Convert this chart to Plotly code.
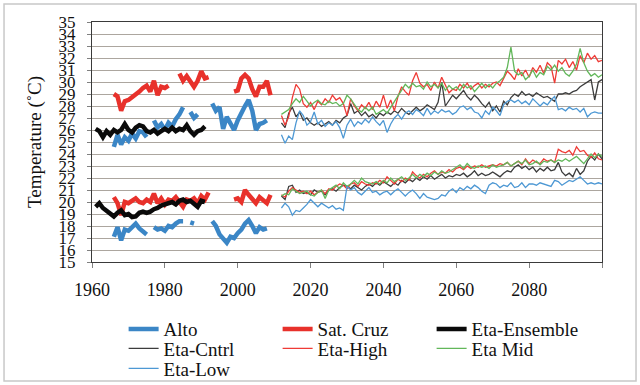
import plotly.graph_objects as go

# ---------------- observed (1961-2010) ----------------
obs_years = list(range(1961, 2011))
N = None
alto_upper = [N, N, N, N, N, 24.6, 25.6, 24.8, 25.4, 25.1, 25.7, 25.3, 25.9, 25.8, 25.4, N,
              26.8, 26.2, 26.5, 26.0, 26.6, 26.3, 26.9, 27.3, 27.9, N, 27.5, 27.0, 27.3, N,
              N, N, 28.2, 27.6, 27.9, 26.1, 27.1, 26.5, 26.0, 26.8, 27.5, 28.0, 28.5, 27.6,
              26.0, 26.5, 26.6, 26.8, N, N]
alto_lower = [N, N, N, N, N, 17.1, 17.9, 16.8, 17.7, 17.6, 17.9, 18.2, 17.8, 17.6, 17.3, N,
              17.9, 17.7, 17.8, 17.6, 18.0, 17.9, 18.2, 18.4, 18.4, N, 18.3, 18.2, N, N,
              N, N, 18.4, 18.0, 17.3, 17.0, 16.6, 17.1, 17.0, 17.4, 17.7, 18.2, 18.5, 18.0,
              17.4, 17.9, 17.7, 17.8, N, N]
cruz_upper = [N, N, N, N, N, 29.0, 28.8, 27.6, 28.4, 28.5, 28.7, 28.9, 29.2, 29.5, 29.7, 29.2,
              30.1, 28.9, 29.6, 29.5, 29.7, N, N, 30.7, 30.1, 30.5, 30.0, 29.6, 30.1, 30.9,
              30.3, 30.4, N, N, N, N, N, N, 29.2, 29.3, 30.3, 30.6, 30.3, 29.4,
              28.8, 29.6, 29.6, 30.1, 28.9, N]
cruz_lower = [N, N, N, N, N, 20.4, 19.9, 18.9, 20.0, 19.9, 20.1, 20.3, 20.0, 19.9, 20.2, 20.0,
              20.7, 19.9, 20.3, 19.8, 20.2, 20.1, 20.4, 20.0, 19.6, 20.2, 20.1, 20.3, 19.9, 20.5,
              20.2, 20.8, N, N, N, N, N, N, 20.2, 20.3, 20.0, 21.0, 20.6, 20.2,
              19.9, 20.4, 20.1, 19.9, 20.6, N]
ens_upper = [26.1, 25.9, 25.4, 25.9, 25.6, 26.0, 25.8, 26.0, 26.5, 26.0, 25.8, 26.2, 26.4, 26.3,
             25.9, 25.8, 26.0, 25.7, 25.9, 26.1, 25.9, 26.2, 25.9, 26.1, 26.0, 26.4, 25.9, 25.6,
             25.9, 26.0, 26.3] + [N] * 19
ens_lower = [19.6, 19.9, 19.5, 19.3, 19.0, 18.8, 19.1, 19.3, 18.9, 19.0, 18.75, 18.8, 19.1, 19.2,
             19.1, 19.2, 19.4, 19.5, 19.7, 19.8, 19.9, 20.0, 19.8, 20.1, 20.2, 20.0, 20.1, 19.8,
             19.6, 20.1, 20.0] + [N] * 19

# ---------------- projections (2012-2100) ----------------
proj_years = list(range(2012, 2101))
high_upper = [27.2, 26.4, 27.1, 28.7, 29.8, 29.4, 28.2, 27.9, 28.3, 27.7, 28.4, 28.1, 28.6, 28.3,
              28.9, 28.5, 28.7, 28.2, 27.2, 28.6, 28.0, 27.6, 28.1, 27.8, 28.3, 27.7, 28.4, 27.9,
              28.9, 27.8, 28.5, 27.6, 28.8, 29.6, 29.2, 28.9, 30.1, 30.8, 29.9, 29.6, 29.8, 29.3,
              30.0, 29.5, 30.4, 29.8, 29.1, 29.4, 29.3, 29.8, 29.5, 29.9, 29.4, 29.7, 29.9, 29.5,
              29.8, 29.6, 29.9, 30.0, 29.7, 30.3, 30.9, 30.6, 30.2, 31.1, 30.5, 31.0, 30.4, 31.2,
              30.8, 31.4, 30.7, 31.6, 31.3, 29.9, 31.8, 31.5, 31.9, 31.2, 31.7, 31.0, 32.2, 31.6,
              32.4, 31.9, 32.2, 31.7, 31.8]
mid_upper = [27.3, 27.5, 27.7, 28.2, 28.6, 28.3, 28.8, 28.4, 28.0, 28.3, 28.5, 28.2, 28.1, 28.4,
             28.2, 28.3, 28.0, 28.2, 28.9, 28.6, 28.1, 27.7, 27.5, 27.9, 27.6, 27.9, 27.3, 27.5,
             27.7, 27.4, 27.9, 28.3, 28.8, 29.4, 29.8, 29.5, 29.9, 29.6, 29.7, 29.4, 30.0, 29.6,
             29.8, 29.5, 29.9, 29.3, 29.7, 29.4, 29.6, 29.3, 29.8, 29.5, 29.7, 29.2, 29.6, 29.9,
             29.5, 29.8, 29.5, 29.9, 30.1, 30.4, 31.2, 32.9, 30.9, 30.6, 30.8, 30.2, 30.5, 31.0,
             30.4, 30.8, 30.6, 31.3, 31.0, 31.4, 30.9, 31.2, 30.7, 30.5, 30.9, 31.5, 32.8, 31.6,
             30.9, 30.5, 30.7, 30.4, 30.6]
cntrl_upper = [26.6, 26.2, 27.4, 27.9, 27.1, 27.5, 26.8, 27.0, 26.6, 26.4, 26.6, 26.3, 26.5, 26.7,
               26.4, 26.8, 26.6, 27.0, 27.2, 28.2, 27.4, 27.6, 27.2, 27.5, 27.1, 27.3, 27.0, 27.4,
               27.2, 27.5, 27.3, 27.6, 27.4, 27.8, 27.5, 27.3, 27.6, 27.9, 27.6, 27.8, 28.1, 27.9,
               27.7, 28.3, 30.0, 28.0, 28.4, 28.9, 28.6, 29.0, 29.3, 28.8, 28.5, 28.9, 28.6, 28.2,
               27.9, 28.3, 27.6, 28.0, 27.5, 28.4, 28.1, 28.7, 29.0, 28.8, 29.2, 28.9, 29.0, 28.8,
               29.1, 28.9, 28.7, 28.8, 28.6, 28.4, 29.0, 29.0, 29.1, 29.0, 29.2, 29.3, 29.6, 29.8,
               30.0, 30.2, 28.5, 30.0, 30.2]
low_upper = [25.6, 24.9, 25.5, 25.2, 26.6, 27.6, 27.2, 26.4, 26.7, 27.5, 26.5, 26.8, 26.3, 26.6,
             26.4, 26.7, 26.2, 25.3, 26.4, 26.9, 26.3, 26.7, 26.5, 26.9, 26.6, 27.1, 26.7, 26.4,
             26.8, 25.8, 26.5, 27.0, 27.3, 26.9, 27.4, 27.6, 27.3, 27.7, 27.5, 27.2, 27.8, 27.3,
             27.6, 27.4, 27.7, 27.5, 27.6, 27.3, 27.5, 27.9, 28.0, 27.7, 27.9, 27.5, 27.4, 27.0,
             27.6, 27.3, 27.9, 27.6, 27.2, 28.1, 28.4, 28.5, 28.3, 28.5, 28.2, 28.4, 28.1, 28.6,
             28.3, 28.0, 28.3, 28.1, 28.5, 28.8, 27.7, 27.8, 27.6, 27.9, 27.7, 27.8, 27.5, 27.8,
             27.1, 27.4, 27.5, 27.4, 27.4]
high_lower = [20.6, 20.4, 20.9, 21.2, 21.0, 20.8, 20.9, 20.7, 20.9, 20.6, 20.8, 21.0, 20.7, 21.1,
              21.0, 21.3, 21.5, 21.4, 21.1, 21.5, 21.6, 21.3, 21.7, 21.5, 21.4, 21.6, 21.5, 21.8,
              21.6, 22.1, 21.8, 21.5, 21.9, 21.7, 22.0, 21.8, 22.5, 22.2, 22.0, 22.3, 22.1, 22.4,
              22.6, 22.3, 22.5, 22.4, 22.7, 22.5, 22.8, 22.9, 22.7, 23.0, 22.8, 23.0, 22.9, 23.1,
              22.9, 23.0, 23.1, 23.0, 23.2, 23.1, 23.3, 23.0, 23.2, 23.4, 23.1, 23.6, 23.2, 23.5,
              23.3, 23.2, 23.6, 23.4, 23.5, 23.3, 24.4, 24.2, 24.1, 24.3, 23.9, 24.6, 24.2, 24.3,
              23.9, 23.7, 24.1, 23.6, 23.5]
mid_lower = [20.5, 20.7, 20.6, 21.1, 20.9, 20.7, 20.8, 20.9, 20.6, 20.5, 20.8, 21.0, 20.3, 21.0,
             21.2, 21.4, 21.1, 21.6, 21.3, 21.5, 21.8, 21.5, 22.0, 21.7, 21.6, 21.5, 21.7, 21.5,
             21.8, 21.6, 22.0, 21.7, 21.9, 22.1, 21.8, 22.0, 22.3, 22.0, 22.3, 22.1, 22.4, 22.2,
             22.5, 22.3, 22.6, 22.4, 22.5, 22.7, 22.9, 23.1, 22.8, 23.2, 22.9, 22.8, 23.0, 22.9,
             23.0, 22.8, 23.1, 22.9, 23.0, 23.1, 23.3, 23.0, 23.2, 23.4, 23.2, 23.5, 23.1, 23.2,
             23.4, 23.1, 23.4, 23.3, 23.5, 23.3, 23.5, 23.4, 23.6, 23.4, 23.6, 23.8, 23.5, 23.2,
             23.6, 24.0, 23.7, 24.0, 23.8]
cntrl_lower = [20.5, 20.2, 21.3, 21.4, 20.8, 21.0, 20.7, 20.8, 20.6, 21.0, 20.8, 20.9, 20.6, 21.0,
               21.1, 20.9, 21.2, 21.4, 21.3, 21.1, 21.4, 21.2, 21.0, 21.3, 21.5, 21.3, 21.6, 21.4,
               21.7, 21.5, 21.3, 21.6, 21.4, 21.8, 21.6, 21.9, 21.7, 22.0, 21.8, 22.1, 21.9, 22.2,
               21.9, 22.1, 22.3, 22.0, 22.2, 22.1, 22.3, 22.2, 22.4, 22.1, 22.3, 22.6, 22.2, 22.4,
               22.2, 22.3, 22.5, 22.3, 22.1, 22.4, 22.6, 22.5, 22.9, 23.1, 22.8, 23.0, 22.7, 22.9,
               22.5, 22.8, 22.6, 22.9, 22.6, 22.7, 23.3, 22.5, 22.2, 22.4, 22.1, 22.8, 22.3, 22.6,
               23.4, 23.8, 23.5, 24.0, 23.6]
low_lower = [19.5, 19.9, 19.6, 18.9, 19.3, 19.2, 19.5, 19.8, 20.2, 19.9, 19.6, 19.9, 19.7, 19.5,
             19.7, 19.4, 19.5, 19.3, 21.3, 21.0, 21.2, 20.8, 20.6, 20.9, 21.2, 20.8, 20.9, 20.6,
             20.8, 20.9, 20.6, 20.9, 21.1, 20.8, 20.5, 20.8, 21.0, 20.7, 20.3, 20.7, 20.4, 20.3,
             20.2, 20.3, 20.6, 20.5, 20.9, 21.1, 20.8, 21.2, 21.0, 21.3, 21.1, 21.4, 21.2, 20.9,
             20.7, 21.4, 21.6, 21.5, 21.2, 21.4, 21.3, 21.6, 21.2, 21.3, 21.6, 21.2, 21.5, 21.5,
             21.4, 21.6, 21.5, 21.4, 21.3, 21.8, 21.7, 21.4, 21.6, 21.8, 21.7, 21.9, 22.1, 21.8,
             21.5, 21.6, 21.5, 21.6, 21.5]

x_tickvals = [1960, 1980, 2000, 2020, 2040, 2060, 2080, 2100]
x_ticktext = ["1960", "1980", "2000", "2020", "2040", "2060", "2080", ""]
y_tickvals = list(range(15, 36))

SERIF = "Liberation Serif, Times New Roman, serif"


def both(years, up, low):
    return years + [None] + years, up + [None] + low


fig = go.Figure()
series = [
    ("Alto", obs_years, alto_upper, alto_lower, "#3b86c6", 4.5, "legend"),
    ("Sat. Cruz", obs_years, cruz_upper, cruz_lower, "#e8312b", 4.5, "legend"),
    ("Eta-Ensemble", obs_years, ens_upper, ens_lower, "#0a0a0a", 4.5, "legend"),
    ("Eta-Cntrl", proj_years, cntrl_upper, cntrl_lower, "#3c3c3c", 1.3, "legend2"),
    ("Eta-High", proj_years, high_upper, high_lower, "#ef3b36", 1.3, "legend2"),
    ("Eta Mid", proj_years, mid_upper, mid_lower, "#62b75a", 1.3, "legend2"),
    ("Eta-Low", proj_years, low_upper, low_lower, "#4d98d4", 1.3, "legend3"),
]
for name, yrs, up, low, col, w, lg in series:
    xs, ys = both(yrs, up, low)
    fig.add_trace(go.Scatter(x=xs, y=ys, mode="lines", name=name,
                             line=dict(color=col, width=w), connectgaps=False,
                             legend=lg))

leg_common = dict(orientation="h", xanchor="left", yanchor="middle",
                  entrywidth=109, entrywidthmode="pixels", itemwidth=30,
                  bgcolor="rgba(0,0,0,0)", font=dict(family=SERIF, size=19, color="#111"))
lx = 0.062
fig.update_layout(
    width=640, height=385,
    margin=dict(l=92, r=38, t=22, b=123, autoexpand=False),
    paper_bgcolor="white", plot_bgcolor="white",
    showlegend=True,
    legend=dict(x=lx, y=-0.2796, **leg_common),
    legend2=dict(x=lx, y=-0.3605, **leg_common),
    legend3=dict(x=lx, y=-0.4438, **leg_common),
    xaxis=dict(range=[1960, 2100], tickmode="array", tickvals=x_tickvals, ticktext=x_ticktext,
               showgrid=False, zeroline=False, showline=True, mirror=True,
               linecolor="#3a3a3a", linewidth=1, ticks="outside", ticklen=5,
               tickcolor="#808080", ticklabelstandoff=6,
               tickfont=dict(family=SERIF, size=18, color="#111")),
    yaxis=dict(range=[15, 35], tickmode="array", tickvals=y_tickvals,
               showgrid=True, gridcolor="#aca69f", gridwidth=1, zeroline=False,
               showline=True, mirror=True, linecolor="#3a3a3a", linewidth=1,
               ticks="outside", ticklen=4, tickcolor="#808080", ticklabelstandoff=8,
               tickfont=dict(family=SERIF, size=17, color="#111"),
               title=dict(text="Temperature (˚C)", standoff=11,
                          font=dict(family=SERIF, size=19, color="#111"))),
    shapes=[dict(type="rect", xref="paper", yref="paper",
                 x0=-0.1725, x1=1.0667, y0=-0.496, y1=1.075,
                 line=dict(color="#c8c8c8", width=1.5), layer="below")],
)
fig.write_html("out.html", config={"displayModeBar": False},
               post_script="document.body.style.margin='0';document.body.style.padding='0';")
